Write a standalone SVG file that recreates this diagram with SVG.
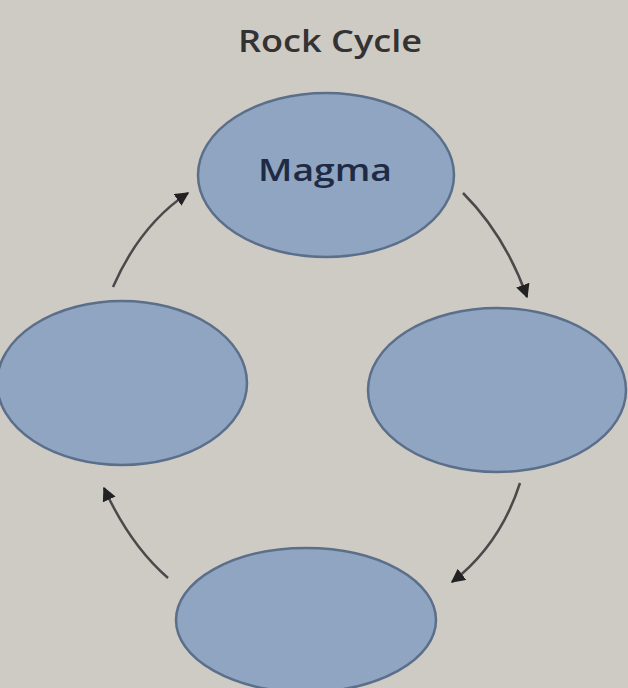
<svg xmlns="http://www.w3.org/2000/svg" width="628" height="688" viewBox="0 0 628 688">
<defs>
<marker id="a2" viewBox="0 0 10 10" refX="9" refY="5" markerWidth="14" markerHeight="14" markerUnits="userSpaceOnUse" orient="auto">
<path d="M0,0 L10,5 L0,10 z" fill="#222"/>
</marker>
<style>
.node{fill:#8fa5c1;stroke:#5c6f8a;stroke-width:2.5}
.conn{fill:none;stroke:#4a4a4a;stroke-width:2.5;marker-end:url(#a2)}
.t{font-family:"Open Sans","DejaVu Sans",sans-serif;text-anchor:middle}
</style>
</defs>
<rect width="628" height="688" fill="#cecbc5"/>
<text class="t" x="330" y="52" font-size="31" font-weight="600" fill="#333" textLength="184" lengthAdjust="spacingAndGlyphs">Rock Cycle</text>
<g id="magma">
<ellipse class="node" cx="326" cy="175" rx="128" ry="82"/>
<text class="t" x="325" y="181" font-size="30" font-weight="600" fill="#1f2b44" textLength="134" lengthAdjust="spacingAndGlyphs">Magma</text>
</g>
<g id="right">
<ellipse class="node" cx="497" cy="390" rx="129" ry="82"/>
</g>
<g id="left">
<ellipse class="node" cx="122" cy="383" rx="125" ry="82"/>
</g>
<g id="bottom">
<ellipse class="node" cx="306" cy="620" rx="130" ry="72"/>
</g>
<g id="connectors">
<path class="conn" d="M463,193 Q505,235 527,297"/>
<path class="conn" d="M520,483 Q500,545 452,582"/>
<path class="conn" d="M168,578 Q130,545 104,488"/>
<path class="conn" d="M113,287 Q140,225 188,193"/>
</g>
</svg>
